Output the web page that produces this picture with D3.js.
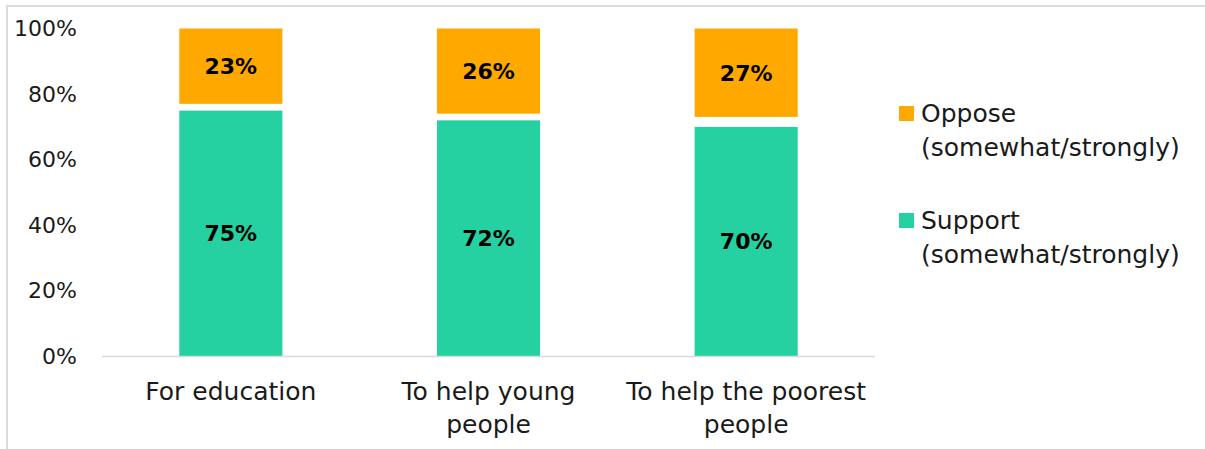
<!DOCTYPE html>
<html>
<head>
<meta charset="utf-8">
<script src="https://cdn.jsdelivr.net/npm/d3@7"></script>
<style>
  html, body { margin: 0; padding: 0; background: #fff; }
  svg { display: block; }
</style>
</head>
<body>
<svg id="chart" width="1205" height="449"></svg>
<script>
// ---- data ----
const categories = [["For education"], ["To help young", "people"], ["To help the poorest", "people"]];
const categoryKeys = ["For education", "To help young people", "To help the poorest people"];
const support = [75, 72, 70];
const neither = [2, 2, 3];     // unlabelled remainder (drawn white)
const oppose = [23, 26, 27];
const yTicks = [0, 20, 40, 60, 80, 100];
const seriesNames = ["Support", "Neither", "Oppose"];
const legendLabels = [["Oppose", "(somewhat/strongly)"], ["Support", "(somewhat/strongly)"]];

// ---- setup ----
const FONT = "'DejaVu Sans', sans-serif";
const colors = { Support: "#25D1A1", Neither: "#ffffff", Oppose: "#FFA900" };
const svg = d3.select("#chart");

// frame
svg.append("line").attr("x1", 6).attr("x2", 1205).attr("y1", 6).attr("y2", 6)
  .attr("stroke", "#dcdcdc").attr("stroke-width", 2);
svg.append("line").attr("x1", 7).attr("x2", 7).attr("y1", 5).attr("y2", 449)
  .attr("stroke", "#dcdcdc").attr("stroke-width", 2);

const x = d3.scaleBand().domain(categoryKeys).range([102, 875])
  .paddingInner(0.6).paddingOuter(0.3);
const y = d3.scaleLinear().domain([0, 100]).range([356, 28.5]);

const table = categoryKeys.map((k, i) => ({ key: k, Support: support[i], Neither: neither[i], Oppose: oppose[i] }));
const stacked = d3.stack().keys(seriesNames)(table);

// bars
const g = svg.append("g");
stacked.forEach(s => {
  g.selectAll(null).data(s).enter().append("rect")
    .attr("x", d => x(d.data.key))
    .attr("width", x.bandwidth())
    .attr("y", d => y(d[1]))
    .attr("height", d => y(d[0]) - y(d[1]))
    .attr("fill", colors[s.key]);
});

// baseline axis
svg.append("line").attr("x1", 102).attr("x2", 875).attr("y1", 356.5).attr("y2", 356.5)
  .attr("stroke", "#d9d9d9").attr("stroke-width", 1.5);

// y axis labels
const yAxis = svg.append("g").attr("transform", "translate(102,0)")
  .call(d3.axisLeft(y).tickValues(yTicks).tickSize(0).tickPadding(25).tickFormat(d => d + "%"));
yAxis.select(".domain").remove();
yAxis.selectAll("text").attr("font-family", FONT).attr("font-size", 22).attr("fill", "#1a1a1a");

// data labels
stacked.filter(s => s.key !== "Neither").forEach(s => {
  svg.selectAll(null).data(s).enter().append("text")
    .attr("x", d => x(d.data.key) + x.bandwidth() / 2)
    .attr("y", d => (y(d[0]) + y(d[1])) / 2 + 8)
    .attr("text-anchor", "middle")
    .attr("font-family", FONT).attr("font-weight", "bold").attr("font-size", 22)
    .attr("fill", "#000")
    .text(d => (d[1] - d[0]) + "%");
});

// x labels
categoryKeys.forEach((k, i) => {
  const t = svg.append("text")
    .attr("x", x(k) + x.bandwidth() / 2)
    .attr("y", 400)
    .attr("text-anchor", "middle")
    .attr("font-family", FONT).attr("font-size", 25).attr("fill", "#1a1a1a");
  categories[i].forEach((line, j) => {
    t.append("tspan").attr("x", x(k) + x.bandwidth() / 2).attr("dy", j === 0 ? 0 : 33).text(line);
  });
});

// legend
const legendY = [106, 213];
const legendColors = [colors.Oppose, colors.Support];
legendLabels.forEach((lines, i) => {
  svg.append("rect").attr("x", 899).attr("y", legendY[i]).attr("width", 15).attr("height", 15)
    .attr("fill", legendColors[i]);
  const t = svg.append("text").attr("x", 921).attr("y", legendY[i] + 16)
    .attr("font-family", FONT).attr("font-size", 25).attr("fill", "#1a1a1a");
  lines.forEach((line, j) => {
    t.append("tspan").attr("x", 921).attr("dy", j === 0 ? 0 : 34).text(line);
  });
});
</script>
</body>
</html>
